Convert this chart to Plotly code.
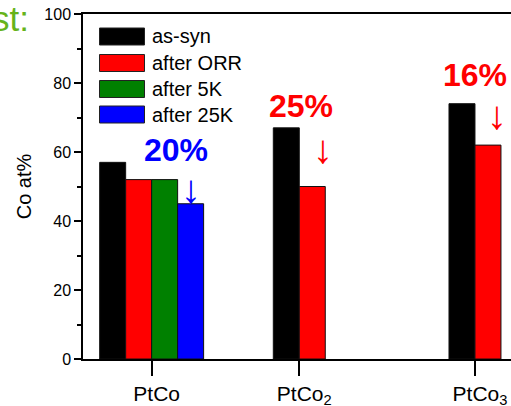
import plotly.graph_objects as go

categories = ["PtCo", "PtCo<sub>2</sub>", "PtCo<sub>3</sub>"]
series_names = ["as-syn", "after ORR", "after 5K", "after 25K"]
as_syn = [57, 67, 74]
after_orr = [52, 50, 62]
after_5k = [52, None, None]
after_25k = [45, None, None]
series_values = [as_syn, after_orr, after_5k, after_25k]
colors = ["#000000", "#ff0000", "#008000", "#0000ff"]
y_ticks = [0, 20, 40, 60, 80, 100]

# loss labels: text, colour
loss_text = ["20%", "25%", "16%"]
loss_color = ["#0000ff", "#ff0000", "#ff0000"]

# ---- layout / styling (positions) ----
cat_pos = [1.0, 2.0, 3.19]
bar_w = 0.176
label_xy = [(1.163, 60.7), (2.011, 73.2), (3.19, 82.2)]   # annotation placement
arrow_xy = [(1.266, 49.4), (2.159, 60.8), (3.337, 70.6)]

fig = go.Figure()

counts = [sum(1 for s in series_values if s[i] is not None) for i in range(len(categories))]
rank = [[0] * len(categories) for _ in series_values]
for i in range(len(categories)):
    k = 0
    for j, s in enumerate(series_values):
        if s[i] is not None:
            rank[j][i] = k
            k += 1

for j, (name, vals, col) in enumerate(zip(series_names, series_values, colors)):
    xs, ys, offs = [], [], []
    for i, v in enumerate(vals):
        if v is None:
            continue
        xs.append(cat_pos[i])
        ys.append(v)
        offs.append((rank[j][i] - counts[i] / 2) * bar_w)
    fig.add_trace(go.Bar(
        x=xs, y=ys, name=name, offset=offs, width=bar_w,
        marker=dict(color=col, line=dict(color="#111111", width=1)),
        showlegend=False,
    ))

L, R, T, B = 83, 0, 14, 47
W, H = 511, 406
pw, ph = W - L - R, H - T - B
def px_x(p):
    return (p - L) / pw
def px_y(p):
    return (H - B - p) / ph

FONT = "Liberation Sans, Arial"
shapes = []
annotations = []
row_top = [28, 54.5, 80.5, 106]
for name, col, top in zip(series_names, colors, row_top):
    shapes.append(dict(type="rect", xref="paper", yref="paper",
                       x0=px_x(99.5), x1=px_x(144.5), y0=px_y(top + 17), y1=px_y(top),
                       fillcolor=col, line=dict(color="#222222", width=1)))
    annotations.append(dict(xref="paper", yref="paper", x=px_x(150), y=px_y(top + 8.5),
                            text=name, showarrow=False, xanchor="left", yanchor="middle",
                            font=dict(size=20, color="#000000", family=FONT)))

for text, col, (lx, ly), (axx, ayy) in zip(loss_text, loss_color, label_xy, arrow_xy):
    annotations.append(dict(x=lx, y=ly, xref="x", yref="y", text="<b>" + text + "</b>",
                            showarrow=False, xanchor="center", yanchor="middle",
                            font=dict(size=32, color=col, family=FONT)))
    annotations.append(dict(x=axx, y=ayy, xref="x", yref="y", text="↓", showarrow=False,
                            xanchor="center", yanchor="middle",
                            font=dict(size=40, color=col, family=FONT)))

annotations.append(dict(xref="paper", yref="paper", x=px_x(31), y=px_y(18), text="st:",
                        showarrow=False, xanchor="right", yanchor="middle",
                        font=dict(size=35, color="#66b31a", family=FONT)))

fig.update_layout(
    width=W, height=H,
    margin=dict(l=L, r=R, t=T, b=B, autoexpand=False),
    paper_bgcolor="white", plot_bgcolor="white",
    barmode="overlay",
    font=dict(family=FONT, color="#000000"),
    shapes=shapes, annotations=annotations,
)
fig.update_xaxes(
    range=[0.535, 3.434], tickvals=cat_pos, ticktext=categories,
    showline=True, linecolor="#000000", linewidth=1.5, mirror=True,
    ticks="outside", ticklen=15, tickwidth=1.5, tickcolor="#000000",
    tickfont=dict(size=21), ticklabelshift=5,
    showgrid=False, zeroline=False, automargin=False,
)
fig.update_yaxes(
    range=[0, 100], tickvals=y_ticks,
    showline=True, linecolor="#000000", linewidth=1.5, mirror=False,
    ticks="outside", ticklen=7, tickwidth=1.5, tickcolor="#000000",
    minor=dict(ticks="outside", ticklen=4, tickwidth=1.5, dtick=10, tick0=0, tickcolor="#000000"),
    tickfont=dict(size=16), showgrid=False, zeroline=False, automargin=False,
    title=dict(text="Co at%", font=dict(size=20), standoff=7),
)

fig.write_html("out.html", config={"displayModeBar": False},
               post_script="document.body.style.margin='0';document.body.style.overflow='hidden';")
